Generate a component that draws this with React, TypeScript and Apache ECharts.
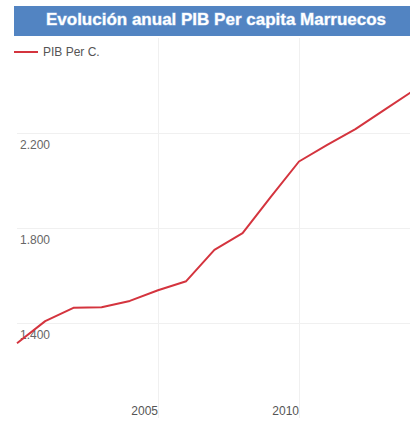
import React, { useEffect, useRef } from "react";
import * as echarts from "echarts";

const titleText = "Evolución anual PIB Per capita Marruecos";
const seriesName = "PIB Per C.";
const years = [2000, 2001, 2002, 2003, 2004, 2005, 2006, 2007, 2008, 2009, 2010, 2011, 2012, 2013, 2014];
const gdpPerCapita = [1315, 1408, 1464, 1466, 1493, 1538, 1576, 1708, 1778, 1931, 2080, 2150, 2216, 2295, 2374];

const fmt = (v: number) => {
  const s = String(Math.round(v));
  return s.replace(/\B(?=(\d{3})+(?!\d))/g, ".");
};

const FONT = "Liberation Sans, Arial, sans-serif";

export default function App() {
  const ref = useRef<HTMLDivElement>(null);
  useEffect(() => {
    if (!ref.current) return;
    const chart = echarts.init(ref.current, undefined, { renderer: "svg" });
    chart.setOption({
      animation: false,
      backgroundColor: "#ffffff",
      graphic: [
        {
          type: "rect",
          shape: { x: 0, y: 6, width: 396, height: 30 },
          style: { fill: "#5284c2" },
          z: 0,
        },
      ],
      title: {
        text: titleText,
        left: 202,
        top: 11,
        textAlign: "center",
        padding: 0,
        textStyle: {
          color: "#ffffff",
          fontFamily: FONT,
          fontWeight: "bold",
          fontSize: 17,
          textBorderColor: "rgba(190,215,245,0.6)",
          textBorderWidth: 1,
        },
        z: 5,
      },
      legend: {
        left: 0,
        top: 46,
        padding: 0,
        icon: "rect",
        itemWidth: 24,
        itemHeight: 2,
        itemGap: 5,
        textStyle: {
          color: "#555555",
          fontFamily: FONT,
          fontSize: 12,
        },
        data: [seriesName],
      },
      grid: { left: 0, right: 0, top: 38, bottom: -1, containLabel: false },
      xAxis: {
        type: "value",
        min: 2000,
        max: 2015,
        interval: 5,
        axisLine: { show: false },
        axisTick: { show: false },
        splitLine: {
          show: true,
          showMinLine: false,
          showMaxLine: false,
          lineStyle: { color: "#f0f0f0", width: 1 },
        },
        axisLabel: {
          inside: true,
          margin: 1,
          align: "right",
          color: "#555555",
          fontFamily: FONT,
          fontSize: 12,
          formatter: (v: number) => (v === 2005 || v === 2010 ? String(v) : ""),
        },
      },
      yAxis: {
        type: "value",
        min: 1000,
        max: 2600,
        interval: 400,
        axisLine: { show: false },
        axisTick: { show: false },
        splitLine: {
          show: true,
          showMinLine: false,
          showMaxLine: false,
          lineStyle: { color: "#f0f0f0", width: 1 },
        },
        axisLabel: {
          inside: true,
          margin: 3,
          align: "left",
          verticalAlign: "top",
          lineHeight: 13,
          padding: [5, 0, 0, 0],
          color: "#666666",
          fontFamily: FONT,
          fontSize: 12,
          formatter: (v: number) => (v === 1000 || v === 2600 ? "" : fmt(v)),
        },
      },
      series: [
        {
          name: seriesName,
          type: "line",
          clip: false,
          showSymbol: false,
          symbol: "none",
          data: years.map((y, i) => [y, gdpPerCapita[i]]),
          lineStyle: { color: "#d4343e", width: 2 },
          itemStyle: { color: "#d4343e" },
        },
      ],
    });
    return () => chart.dispose();
  }, []);
  return (
    <div
      style={{ position: "fixed", left: 14, top: 0, width: 396, height: 423, overflow: "hidden", background: "#fff" }}
    >
      <div ref={ref} style={{ width: 429, height: 423 }} />
    </div>
  );
}
